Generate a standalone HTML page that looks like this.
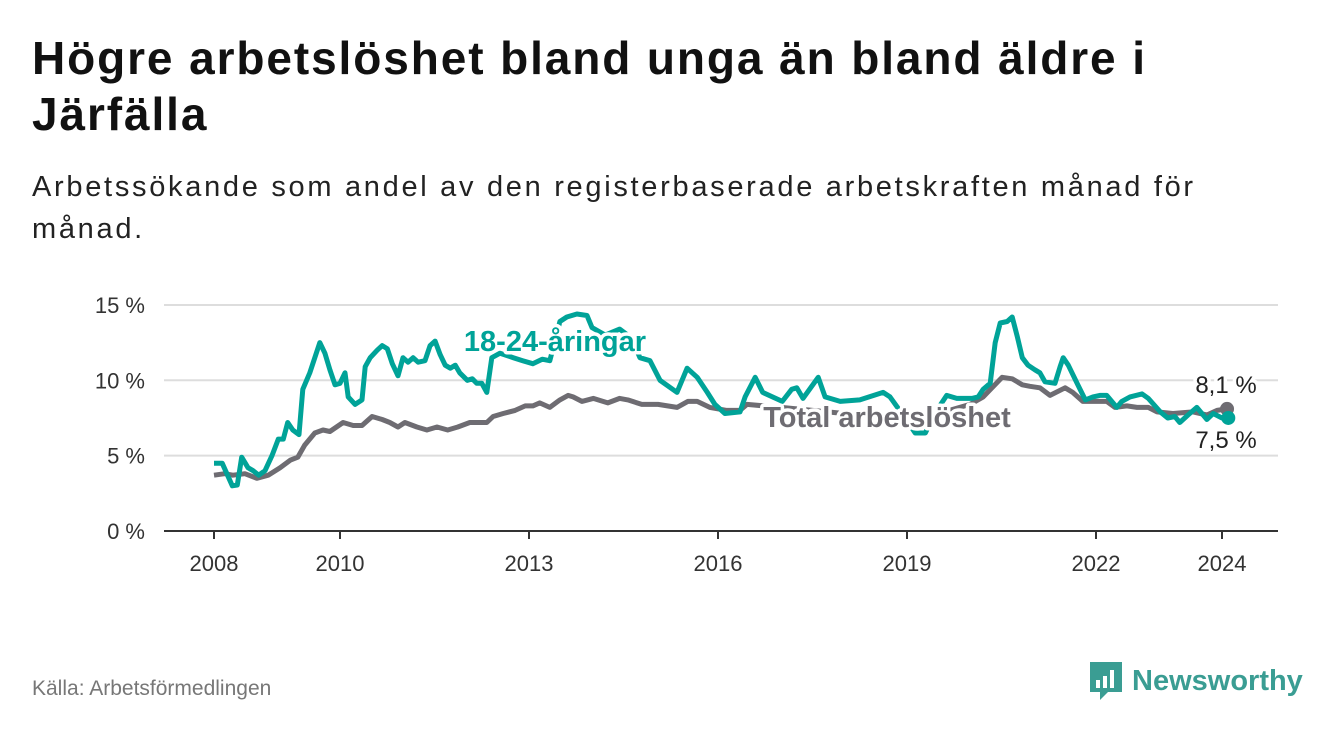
<!DOCTYPE html>
<html><head><meta charset="utf-8"><style>
body{margin:0;width:1340px;height:734px;background:#fff;font-family:"Liberation Sans",sans-serif;overflow:hidden;position:relative}
.t{position:absolute;left:32px;top:30px;font-size:46px;font-weight:bold;color:#111;line-height:56px;white-space:nowrap;letter-spacing:1.9px}
.s{position:absolute;left:32px;top:166px;font-size:29px;color:#222;line-height:42px;white-space:nowrap;letter-spacing:2.7px}
.src{position:absolute;left:32px;top:677px;font-size:21px;color:#777}
.logo{position:absolute;left:1088px;top:660px;display:flex;align-items:center}
.logo span{font-size:29px;font-weight:bold;color:#3a9d93;margin-left:8px}
</style></head><body>
<div class="t">Högre arbetslöshet bland unga än bland äldre i<br>Järfälla</div>
<div class="s">Arbetssökande som andel av den registerbaserade arbetskraften månad för<br>månad.</div>
<svg id="c" width="1340" height="734" style="position:absolute;left:0;top:0"></svg>
<div class="src">Källa: Arbetsförmedlingen</div>
<div class="logo">
<svg width="36" height="42" viewBox="0 0 36 42"><path d="M2 2h32v30H20l-8 8v-8H2z" fill="#3a9d93"/><rect x="8" y="20" width="4" height="8" fill="#fff"/><rect x="15" y="16" width="4" height="12" fill="#fff"/><rect x="22" y="10" width="4" height="18" fill="#fff"/></svg>
<span>Newsworthy</span></div>
<script>
const yTicks=[0,5,10,15];
const xTicks=[2008,2010,2013,2016,2019,2022,2024];
const youthDates=[2008.0,2008.13,2008.29,2008.37,2008.44,2008.54,2008.62,2008.71,2008.81,2008.92,2009.02,2009.10,2009.17,2009.25,2009.35,2009.41,2009.52,2009.68,2009.76,2009.84,2009.92,2010.0,2010.08,2010.13,2010.24,2010.35,2010.40,2010.48,2010.59,2010.67,2010.75,2010.83,2010.92,2011.0,2011.08,2011.16,2011.24,2011.35,2011.43,2011.51,2011.59,2011.67,2011.75,2011.83,2011.90,2012.02,2012.10,2012.17,2012.25,2012.33,2012.41,2012.54,2012.75,2012.90,2013.06,2013.21,2013.33,2013.49,2013.60,2013.76,2013.92,2014.0,2014.21,2014.44,2014.63,2014.76,2014.92,2015.08,2015.35,2015.51,2015.67,2015.83,2015.95,2016.11,2016.35,2016.43,2016.59,2016.71,2017.02,2017.17,2017.25,2017.35,2017.59,2017.70,2017.94,2018.25,2018.62,2018.73,2018.97,2019.13,2019.29,2019.44,2019.63,2019.79,2020.03,2020.13,2020.21,2020.32,2020.40,2020.48,2020.59,2020.67,2020.75,2020.83,2020.92,2021.03,2021.11,2021.19,2021.35,2021.43,2021.48,2021.56,2021.70,2021.83,2021.95,2022.06,2022.17,2022.33,2022.41,2022.54,2022.73,2022.83,2023.02,2023.14,2023.25,2023.33,2023.46,2023.60,2023.76,2023.86,2024.0,2024.10];
const youthValues=[4.5,4.5,3.0,3.05,4.9,4.2,4.0,3.7,4.0,5.0,6.1,6.1,7.2,6.7,6.4,9.4,10.5,12.5,11.8,10.7,9.7,9.8,10.5,8.9,8.4,8.7,10.9,11.5,12.0,12.3,12.1,11.1,10.3,11.5,11.2,11.5,11.2,11.3,12.3,12.6,11.7,11.0,10.8,11.0,10.5,10.0,10.1,9.8,9.8,9.2,11.5,11.8,11.5,11.3,11.1,11.4,11.3,13.9,14.2,14.4,14.3,13.5,13.0,13.4,12.8,11.5,11.3,10.0,9.2,10.8,10.2,9.2,8.4,7.8,7.9,8.9,10.2,9.2,8.6,9.4,9.5,8.8,10.2,8.9,8.6,8.7,9.2,8.9,7.5,6.5,6.5,7.8,9.0,8.8,8.8,8.9,9.4,9.8,12.5,13.8,13.9,14.2,12.9,11.5,11.0,10.7,10.5,9.9,9.8,10.9,11.5,11.0,9.8,8.7,8.9,9.0,9.0,8.2,8.6,8.9,9.1,8.8,7.9,7.5,7.6,7.2,7.7,8.2,7.4,7.8,7.5,7.5];
const totalDates=[2008.0,2008.17,2008.30,2008.49,2008.68,2008.86,2009.05,2009.21,2009.33,2009.44,2009.60,2009.73,2009.84,2010.05,2010.21,2010.35,2010.51,2010.67,2010.79,2010.92,2011.03,2011.22,2011.38,2011.54,2011.71,2011.87,2012.06,2012.22,2012.33,2012.43,2012.59,2012.78,2012.94,2013.06,2013.17,2013.33,2013.49,2013.62,2013.70,2013.84,2014.02,2014.25,2014.44,2014.57,2014.79,2015.05,2015.35,2015.52,2015.67,2015.87,2016.14,2016.35,2016.46,2017.0,2017.5,2018.0,2018.5,2019.0,2019.5,2020.0,2020.21,2020.51,2020.67,2020.83,2020.95,2021.11,2021.27,2021.51,2021.63,2021.79,2022.17,2022.30,2022.49,2022.65,2022.83,2022.97,2023.22,2023.54,2023.76,2023.92,2024.08];
const totalValues=[3.7,3.8,3.7,3.8,3.5,3.7,4.2,4.7,4.9,5.7,6.5,6.7,6.6,7.2,7.0,7.0,7.6,7.4,7.2,6.9,7.2,6.9,6.7,6.9,6.7,6.9,7.2,7.2,7.2,7.6,7.8,8.0,8.3,8.3,8.5,8.2,8.7,9.0,8.9,8.6,8.8,8.5,8.8,8.7,8.4,8.4,8.2,8.6,8.6,8.2,8.0,8.0,8.4,8.2,8.0,7.8,7.6,7.3,7.8,8.4,8.9,10.2,10.1,9.7,9.6,9.5,9.0,9.5,9.2,8.6,8.6,8.2,8.3,8.2,8.2,7.9,7.8,7.9,7.7,8.0,8.1];
const NS='http://www.w3.org/2000/svg';
const svg=document.getElementById('c');
const X=d=>214+(d-2008)*63;
const Y=v=>531-v*15.07;
function mk(tag,attrs,parent){const e=document.createElementNS(NS,tag);for(const k in attrs)e.setAttribute(k,attrs[k]);(parent||svg).appendChild(e);return e;}
yTicks.forEach(v=>{
  if(v>0){const g=mk('line',{x1:164,x2:1278,y1:Y(v),y2:Y(v),stroke:'#ddd','stroke-width':2});
  
  }
  const t=mk('text',{x:145,y:Y(v)+8,'text-anchor':'end','font-size':22,fill:'#333'});
  t.textContent=v+' %';
  
  
});
const ax=mk('line',{x1:164,x2:1278,y1:531,y2:531,stroke:'#333','stroke-width':2});


xTicks.forEach(yr=>{
  mk('line',{x1:X(yr),x2:X(yr),y1:531,y2:539,stroke:'#333','stroke-width':2});
  const t=mk('text',{x:X(yr),y:571,'text-anchor':'middle','font-size':22,fill:'#333'});
  t.textContent=yr;
  
  
});
function line(ds,vs,col,name){
  const p=mk('path',{d:ds.map((d,i)=>(i?'L':'M')+X(d).toFixed(1)+' '+Y(vs[i]).toFixed(1)).join(''),fill:'none',stroke:col,'stroke-width':5,'stroke-linejoin':'round'});
  
  
  const c=mk('circle',{cx:X(ds[ds.length-1]),cy:Y(vs[vs.length-1]),r:7,fill:col});
  
  
}
line(totalDates,totalValues,'#6e6c72','total-line');
line(youthDates,youthValues,'#00a398','youth-line');
function lab(txt,x,y,col,bold,anchor,name,fs){
  const t=mk('text',{x:x,y:y,'text-anchor':anchor,'font-size':fs,'font-weight':bold?'bold':'normal',fill:col,stroke:'#fff','stroke-width':7,'paint-order':'stroke','stroke-linejoin':'round'});
  t.textContent=txt;
  
  
}
lab('18-24-åringar',555,351,'#00a398',true,'middle','youth-series-label',29);
lab('Total arbetslöshet',887,427,'#6e6c72',true,'middle','total-series-label',29);
lab('8,1 %',1226,393,'#222',false,'middle','total-end-value',24);
lab('7,5 %',1226,448,'#222',false,'middle','youth-end-value',24);
</script>
</body></html>
